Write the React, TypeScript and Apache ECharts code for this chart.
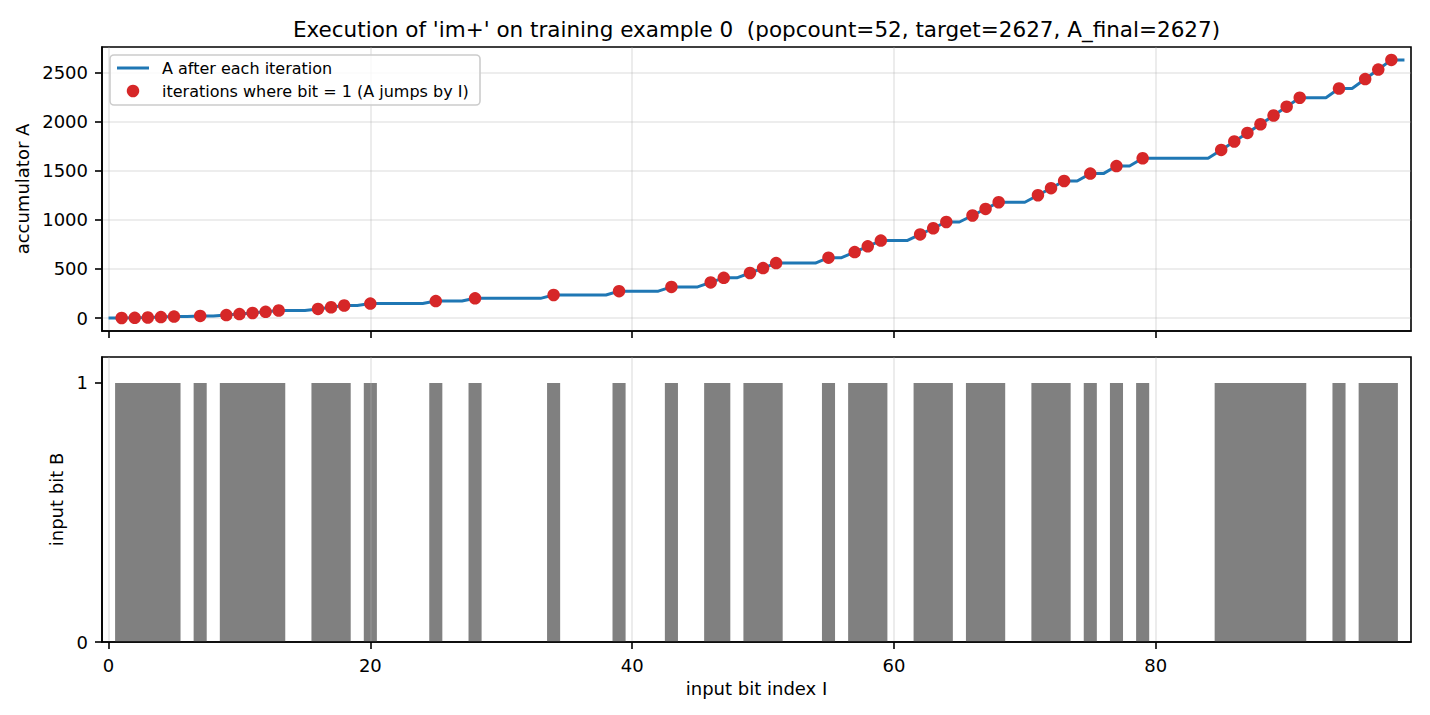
import React, { useEffect, useRef } from 'react';
import * as echarts from 'echarts';

// input bit B for I = 0..99
const BITS = [
  0, 1, 1, 1, 1, 1, 0, 1, 0, 1,
  1, 1, 1, 1, 0, 0, 1, 1, 1, 0,
  1, 0, 0, 0, 0, 1, 0, 0, 1, 0,
  0, 0, 0, 0, 1, 0, 0, 0, 0, 1,
  0, 0, 0, 1, 0, 0, 1, 1, 0, 1,
  1, 1, 0, 0, 0, 1, 0, 1, 1, 1,
  0, 0, 1, 1, 1, 0, 1, 1, 1, 0,
  0, 1, 1, 1, 0, 1, 0, 1, 0, 1,
  0, 0, 0, 0, 0, 1, 1, 1, 1, 1,
  1, 1, 0, 0, 1, 0, 1, 1, 1, 0,
];

// accumulator A after each iteration
const ACC = [
  0, 1, 3, 6, 10, 15, 15, 22, 22, 31,
  41, 52, 64, 77, 77, 77, 93, 110, 128, 128,
  148, 148, 148, 148, 148, 173, 173, 173, 201, 201,
  201, 201, 201, 201, 235, 235, 235, 235, 235, 274,
  274, 274, 274, 317, 317, 317, 363, 410, 410, 459,
  509, 560, 560, 560, 560, 615, 615, 672, 730, 789,
  789, 789, 851, 914, 978, 978, 1044, 1111, 1179, 1179,
  1179, 1250, 1322, 1395, 1395, 1470, 1470, 1547, 1547, 1626,
  1626, 1626, 1626, 1626, 1626, 1711, 1797, 1884, 1972, 2061,
  2151, 2242, 2242, 2242, 2336, 2336, 2432, 2529, 2627, 2627,
];

const X_TICKS = [0, 20, 40, 60, 80];
const A_TICKS = [0, 500, 1000, 1500, 2000, 2500];
const B_TICKS = [0, 1];

const TITLE = "Execution of 'im+' on training example 0  (popcount=52, target=2627, A_final=2627)";
const FONT = 'DejaVu Sans';
const GRID_COLOR = 'rgba(176,176,176,0.3)';

export default function App() {
  const chartRef = useRef<HTMLDivElement>(null);

  useEffect(() => {
    if (!chartRef.current) return;
    const chart = echarts.init(chartRef.current, null, { renderer: 'svg' });

    const lineData = ACC.map((a, i) => [i, a]);
    const dotData = ACC.map((a, i) => [i, a]).filter((_, i) => BITS[i] === 1);
    const barData = BITS.map((b, i) => [i, b]);

    const tickStyle = { color: '#000', width: 1.6 };
    const labelStyle = { color: '#000', fontSize: 18, fontFamily: FONT, formatter: (v: number) => String(v) };
    const nameStyle = { color: '#000', fontSize: 18, fontFamily: FONT };

    const option: any = {
      animation: false,
      backgroundColor: '#fff',
      grid: [
        { left: 102, top: 47, width: 1309, height: 284, show: true, borderColor: '#000', borderWidth: 1.6, outerBoundsMode: 'none', containLabel: false },
        { left: 102, top: 357, width: 1309, height: 285, show: true, borderColor: '#000', borderWidth: 1.6, outerBoundsMode: 'none', containLabel: false },
      ],
      xAxis: [
        {
          type: 'value', gridIndex: 0, min: -0.5, max: 99.5,
          axisLine: { show: true, onZero: false, lineStyle: tickStyle },
          axisTick: { show: true, length: 7, lineStyle: tickStyle, customValues: X_TICKS },
          axisLabel: { show: false },
          splitLine: { show: true, lineStyle: { color: GRID_COLOR, width: 1.6 } },
        },
        {
          type: 'value', gridIndex: 1, min: -0.5, max: 99.5, z: 5,
          name: 'input bit index I', nameLocation: 'middle', nameGap: 37, nameTextStyle: nameStyle,
          axisLine: { show: true, onZero: false, lineStyle: tickStyle },
          axisTick: { show: true, length: 7, lineStyle: tickStyle, customValues: X_TICKS },
          axisLabel: { ...labelStyle, margin: 14, customValues: X_TICKS },
          splitLine: { show: true, lineStyle: { color: GRID_COLOR, width: 1.6 } },
        },
      ],
      yAxis: [
        {
          type: 'value', gridIndex: 0, min: -131.35, max: 2758.35,
          name: 'accumulator A', nameLocation: 'middle', nameRotate: 90, nameGap: 50, nameTextStyle: nameStyle,
          axisLine: { show: true, onZero: false, lineStyle: tickStyle },
          axisTick: { show: true, length: 7, lineStyle: tickStyle, customValues: A_TICKS },
          axisLabel: { ...labelStyle, margin: 14, customValues: A_TICKS },
          splitLine: { show: true, lineStyle: { color: GRID_COLOR, width: 1.6 } },
        },
        {
          type: 'value', gridIndex: 1, min: 0, max: 1.1,
          name: 'input bit B', nameLocation: 'middle', nameRotate: 90, nameGap: 29, nameTextStyle: nameStyle,
          axisLine: { show: true, onZero: false, lineStyle: tickStyle },
          axisTick: { show: true, length: 7, lineStyle: tickStyle, customValues: B_TICKS },
          axisLabel: { ...labelStyle, margin: 14, customValues: B_TICKS },
          splitLine: { show: false },
        },
      ],
      series: [
        {
          name: 'A after each iteration',
          type: 'line',
          xAxisIndex: 0, yAxisIndex: 0,
          data: lineData,
          symbol: 'none',
          lineStyle: { color: '#1f77b4', width: 3 },
          z: 2,
        },
        {
          name: 'iterations where bit = 1 (A jumps by I)',
          type: 'scatter',
          xAxisIndex: 0, yAxisIndex: 0,
          data: dotData,
          symbolSize: 12.5,
          itemStyle: { color: '#d62728', opacity: 1 },
          z: 3,
        },
        {
          name: 'input bit B',
          type: 'custom',
          xAxisIndex: 1, yAxisIndex: 1,
          data: barData,
          z: 2,
          renderItem: (params: any, api: any) => {
            const i = api.value(0);
            const b = api.value(1);
            if (!b) return null;
            const p0 = api.coord([i - 0.5, b]);
            const p1 = api.coord([i + 0.5, 0]);
            // overlap the next bar a little so a run of bars has no seams
            const extra = BITS[i + 1] === 1 ? 1.5 : 0;
            return {
              type: 'rect',
              shape: { x: p0[0], y: p0[1], width: p1[0] - p0[0] + extra, height: p1[1] - p0[1] },
              style: { fill: '#808080' },
            };
          },
        },
      ],
      graphic: [
        {
          type: 'text', x: 756.5, y: 29,
          style: { text: TITLE, fill: '#000', fontSize: 21.5, fontFamily: FONT, align: 'center', verticalAlign: 'middle' },
        },
        {
          type: 'rect', z: 10,
          shape: { x: 110, y: 55, width: 370, height: 50, r: 4 },
          style: { fill: 'rgba(255,255,255,0.8)', stroke: '#cccccc', lineWidth: 1.6 },
        },
        {
          type: 'line', z: 11,
          shape: { x1: 117, y1: 68, x2: 149, y2: 68 },
          style: { stroke: '#1f77b4', lineWidth: 3 },
        },
        {
          type: 'text', z: 11, x: 162, y: 68,
          style: { text: 'A after each iteration', fill: '#000', fontSize: 16, fontFamily: FONT, verticalAlign: 'middle' },
        },
        {
          type: 'circle', z: 11,
          shape: { cx: 133, cy: 91, r: 6.25 },
          style: { fill: '#d62728' },
        },
        {
          type: 'text', z: 11, x: 162, y: 91,
          style: { text: 'iterations where bit = 1 (A jumps by I)', fill: '#000', fontSize: 16, fontFamily: FONT, verticalAlign: 'middle' },
        },
      ],
    };

    chart.setOption(option);
    return () => {
      chart.dispose();
    };
  }, []);

  return (
    <div
      ref={chartRef}
      style={{ position: 'absolute', left: 0, top: 0, width: 1430, height: 715 }}
    />
  );
}
